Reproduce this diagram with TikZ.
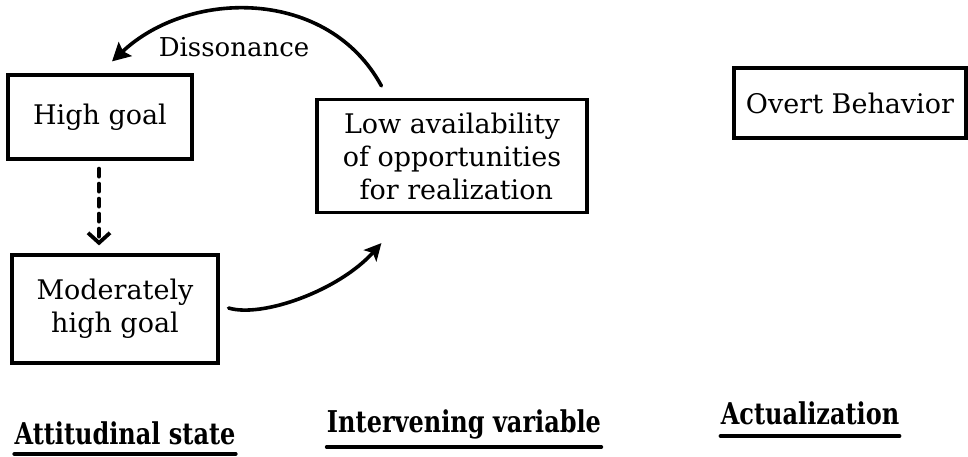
\documentclass[tikz,border=0pt]{standalone}
\usepackage{fontspec}
\setmainfont{DejaVu Serif}
\usetikzlibrary{arrows.meta,calc}
\tikzset{
  box/.style={draw, line width=3.2pt, inner sep=0pt, align=center,
    font=\fontsize{27}{33}\selectfont},
  conn/.style={line width=3.6pt, line cap=round},
  lab/.style={anchor=base, inner sep=0pt, font=\fontsize{30}{34}\selectfont\bfseries},
  uline/.style={line width=4pt, line cap=round}
}
\begin{document}
\begin{tikzpicture}[x=1pt,y=-1pt]
\useasboundingbox (0,0) rectangle (968,456);
% boxes
\node[box, minimum width=184pt, minimum height=84pt] (high) at (100,117) {High goal};
\node[box, minimum width=270pt, minimum height=113pt] (low) at (452,156)
  {Low availability\\of opportunities\\\ for realization};
\node[box, minimum width=232pt, minimum height=70pt] (overt) at (850,103) {Overt Behavior};
\node[box, minimum width=206pt, minimum height=108pt] (mod) at (115,309) {Moderately\\high goal};
% dissonance label
\node[font=\fontsize{26}{30}\selectfont, inner sep=0pt] (diss) at (234,47) {Dissonance};
% connectors
\coordinate (dS) at ($(low.north west)+(66,-12)$);
\coordinate (dE) at ($(high.north)+(12,-12)$);
\draw[conn, -{Stealth[length=18pt,width=19pt,inset=3pt]}] (dS) .. controls ($(dS)+(-53,-98)$) and ($(dE)+(78,-73)$) .. (dE);
\coordinate (mS) at ($(mod.east)+(9,-1)$);
\coordinate (mE) at ($(low.south west)+(66,29)$);
\draw[conn, -{Stealth[length=17pt,width=17pt,inset=4pt]}] (mS) .. controls ($(mS)+(33,10)$) and ($(mE)+(-43,48)$) .. (mE);
\coordinate (hS) at ($(high.south)+(-1,8)$);
\coordinate (hE) at ($(mod.north)+(-16,-8)$);
\draw[conn, line width=3.8pt, dash pattern=on 8pt off 7pt, -{Straight Barb[length=10pt,width=22pt,line width=3.8pt]}] (hS) -- (hS |- hE);
% bottom labels
\node[lab] (att) at (125,444) {\scalebox{0.8}[1]{Attitudinal state}};
\node[lab] (int) at (464,432) {\scalebox{0.8}[1]{Intervening variable}};
\node[lab] (act) at (810,424) {\scalebox{0.8}[1]{Actualization}};
\draw[uline] ($(att.base west)+(0,10)$) -- ($(att.base east)+(0,10)$);
\draw[uline] ($(int.base west)+(0,15)$) -- ($(int.base east)+(0,15)$);
\draw[uline] ($(act.base west)+(0,12)$) -- ($(act.base east)+(0,12)$);
\end{tikzpicture}
\end{document}
